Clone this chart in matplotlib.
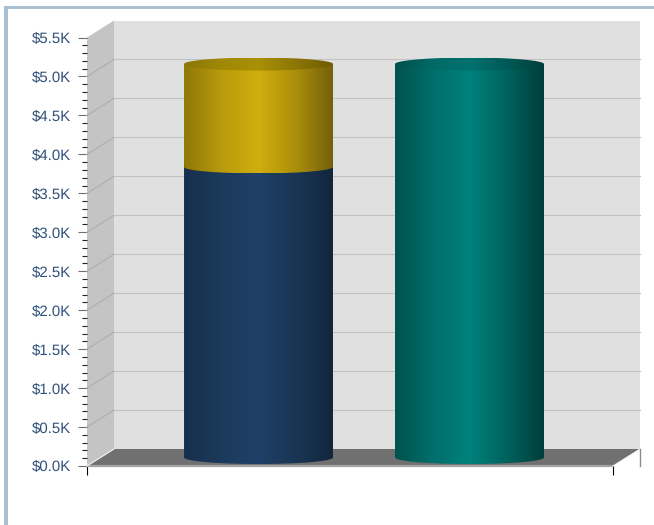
#!/usr/bin/env python3
import numpy as np
import matplotlib
matplotlib.use('Agg')
import matplotlib.pyplot as plt
from matplotlib.colors import LinearSegmentedColormap
from matplotlib.patches import PathPatch, Polygon, Rectangle
from matplotlib.path import Path

# values
categories = [0, 1]
lower_values = [3730, 5050]
upper_values = [1320, 0]
tick_values = [0, 500, 1000, 1500, 2000, 2500, 3000, 3500, 4000, 4500, 5000, 5500]
tick_labels = ['$0.0K', '$0.5K', '$1.0K', '$1.5K', '$2.0K', '$2.5K', '$3.0K', '$3.5K',
               '$4.0K', '$4.5K', '$5.0K', '$5.5K']

plt.rcParams['font.family'] = ['Liberation Sans', 'DejaVu Sans']
plt.rcParams['text.hinting'] = 'none'
plt.rcParams['text.hinting_factor'] = 1

W, H = 654, 525
fig = plt.figure(figsize=(W / 100, H / 100), dpi=100)

# frame of the chart, only left and top
fig.add_artist(Rectangle((4 / W, 0), 3.5 / W, 1 - 6 / H, transform=fig.transFigure, color='#a9c0d2', lw=0))
fig.add_artist(Rectangle((4 / W, 1 - 8.5 / H), 1, 2.5 / H, transform=fig.transFigure, color='#a9c0d2', lw=0))

ax = fig.add_axes([87 / W, (H - 466) / H, 526 / W, 428.5 / H])
ax.patch.set_visible(False)
xmin, xmax = -0.749, 1.744
ymax = 5500
px_x = (xmax - xmin) / 526
px_y = ymax / 428.5
dx = 27 * px_x
dy = 17 * px_y


def poly(points, color, z):
    ax.add_patch(Polygon(points, closed=True, facecolor=color, edgecolor='none', clip_on=False, zorder=z))


# walls and floor
poly([(xmin + dx, dy), (xmax + dx, dy), (xmax + dx, ymax + dy), (xmin + dx, ymax + dy)], '#e0e0e0', 1)
poly([(xmin, 0), (xmin + dx, dy), (xmin + dx, ymax + dy), (xmin, ymax)], '#c4c4c4', 1)
poly([(xmin, 0), (xmax, 0), (xmax + dx, dy), (xmin + dx, dy)], '#707070', 1)
ax.plot([xmin, xmax], [0, 0], color='#a4a4a4', lw=1.6, clip_on=False, zorder=2, solid_capstyle='butt')
ax.plot([xmin, xmin + dx], [0, dy], color='#f4f4f4', lw=0.8, clip_on=False, zorder=2)
ax.plot([xmax, xmax + dx], [0, dy], color='#f4f4f4', lw=0.8, clip_on=False, zorder=2)
ax.plot([xmax + dx, xmax + dx], [dy, 0], color='#8c8c8c', lw=1.0, clip_on=False, zorder=2)

# grid lines along side and back wall
for v in tick_values[1:-1]:
    ax.plot([xmin, xmin + dx], [v, v + dy], color='#adadad', lw=0.8, clip_on=False, zorder=2)
    ax.plot([xmin + dx, xmax + dx], [v + dy, v + dy], color='#c2c2c2', lw=0.8, clip_on=False, zorder=2)

cm_blue = LinearSegmentedColormap.from_list('b', ['#162f4c', '#1c3a5c', '#1f4068', '#1a3554', '#12263e'])
cm_gold = LinearSegmentedColormap.from_list('g', ['#8f7708', '#b89b0c', '#d0ae0e', '#ab8f0a', '#75600a'])
cm_teal = LinearSegmentedColormap.from_list('t', ['#00524e', '#006e6a', '#00827d', '#00625e', '#003d3a'])
cm_gold_top = LinearSegmentedColormap.from_list('gt', ['#8a7406', '#a08906', '#a99006', '#8c7606', '#6f5c04'])
cm_teal_top = LinearSegmentedColormap.from_list('tt', ['#00504c', '#006a66', '#00726e', '#005a56', '#003f3c'])

bar_w = 149 / 211
rx = bar_w / 2
ry = 6.5 * px_y
ramp = np.linspace(0, 1, 256).reshape(1, -1)


def shaded(path, cmap, cx, y0, y1, z):
    im = ax.imshow(ramp, cmap=cmap, extent=(cx - rx, cx + rx, y0, y1), aspect='auto',
                   zorder=z, clip_on=True)
    patch = PathPatch(path, transform=ax.transData, facecolor='none', edgecolor='none')
    ax.add_patch(patch)
    im.set_clip_path(patch)
    patch.set_clip_on(False)


def body_path(cx, y0, y1):
    # bottom bulges downwards, top is flat up to the centre of the cap
    t = np.linspace(np.pi, 2 * np.pi, 60)
    xs = cx + rx * np.cos(t)
    ys = y0 + ry * np.sin(t)
    pts = list(zip(xs, ys)) + [(cx + rx, y1), (cx - rx, y1)]
    return Path(pts + [pts[0]], closed=True)


def cap_path(cx, y):
    t = np.linspace(0, 2 * np.pi, 120)
    return Path(np.column_stack([cx + rx * np.cos(t), y + ry * np.sin(t)]), closed=True)


for i, (lo, up) in enumerate(zip(lower_values, upper_values)):
    cx = categories[i] + dx / 2
    y0 = dy / 2
    if up > 0:
        shaded(body_path(cx, y0, y0 + lo + ry), cm_blue, cx, y0 - ry, y0 + lo + ry, 3)
        shaded(body_path(cx, y0 + lo, y0 + lo + up), cm_gold, cx, y0 + lo - ry, y0 + lo + up, 4)
        shaded(cap_path(cx, y0 + lo + up), cm_gold_top, cx, y0 + lo + up - ry, y0 + lo + up + ry, 5)
    else:
        shaded(body_path(cx, y0, y0 + lo), cm_teal, cx, y0 - ry, y0 + lo, 3)
        shaded(cap_path(cx, y0 + lo), cm_teal_top, cx, y0 + lo - ry, y0 + lo + ry, 5)

ax.set_xlim(xmin, xmax)
ax.set_ylim(0, ymax)
for s in ax.spines.values():
    s.set_visible(False)

ax.set_yticks(tick_values)
ax.set_yticklabels(tick_labels, fontsize=10.9, color='#2f5078')
ax.set_yticks([v for v in range(0, ymax + 1, 100) if v % 500 != 0], minor=True)
ax.tick_params(axis='y', which='major', length=6.5, width=0.8, color='#6e6e6e', pad=5)
ax.tick_params(axis='y', which='minor', length=3.8, width=0.8, color='#222222')
ax.set_xticks([xmin, xmax])
ax.set_xticklabels(['', ''])
ax.tick_params(axis='x', which='major', length=6.5, width=0.8, color='black')

fig.savefig('out.png', dpi=100)
